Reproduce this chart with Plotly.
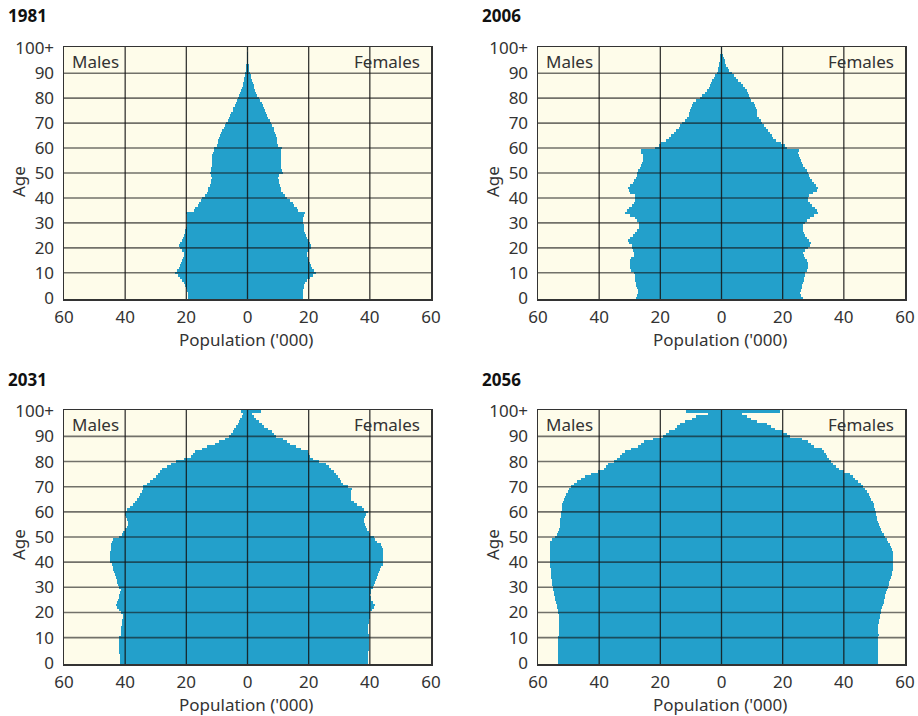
import plotly.graph_objects as go

ages = list(range(101))
age_ticks = [0, 10, 20, 30, 40, 50, 60, 70, 80, 90, 100]
age_tick_labels = ["0", "10", "20", "30", "40", "50", "60", "70", "80", "90", "100+"]
pop_ticks = [-60, -40, -20, 0, 20, 40, 60]
pop_tick_labels = ["60", "40", "20", "0", "20", "40", "60"]
years = ["1981", "2006", "2031", "2056"]

males_1981 = [19.4, 19.5, 19.5, 19.8, 20.0, 20.3, 20.8, 21.4, 22.0, 22.8,
              23.6, 23.2, 22.5, 22.0, 21.6, 21.3, 21.0, 20.9, 20.8, 21.5,
              22.2, 22.3, 22.0, 21.5, 21.2, 20.8, 20.5, 20.3, 20.0, 19.9,
              19.8, 19.7, 19.7, 19.8, 20.0, 17.6, 17.3, 16.3, 15.8, 15.2,
              14.8, 14.0, 13.4, 13.0, 12.8, 12.4, 12.0, 11.8, 11.6, 11.8,
              12.2, 12.0, 11.8, 11.7, 11.7, 11.6, 11.6, 11.5, 11.3, 11.0,
              10.9, 9.9, 9.7, 9.5, 9.3, 9.1, 8.8, 8.3, 7.8, 7.3,
              6.9, 6.4, 6.0, 5.7, 5.3, 4.9, 4.6, 4.2, 3.8, 3.4,
              3.1, 2.7, 2.3, 2.0, 1.8, 1.6, 1.4, 1.2, 1.1, 0.9,
              0.8, 0.6, 0.5, 0.4, 0.3, 0.2, 0.1, 0.1, 0.1, 0.0, 0.1]
females_1981 = [18.0, 18.0, 18.1, 18.2, 18.4, 18.6, 18.9, 19.6, 20.4, 21.3,
                22.4, 21.8, 21.2, 20.7, 20.4, 20.0, 19.7, 19.6, 19.5, 20.0,
                20.8, 20.8, 20.5, 20.0, 19.4, 19.0, 18.7, 18.6, 18.5, 18.4,
                18.3, 18.3, 18.3, 18.5, 18.9, 16.5, 16.3, 15.3, 15.0, 14.0,
                13.0, 12.3, 11.6, 11.1, 10.8, 10.5, 10.4, 10.2, 9.9, 10.4,
                11.6, 11.2, 10.9, 11.0, 11.1, 11.0, 10.9, 10.9, 10.9, 11.0,
                11.2, 9.9, 9.7, 9.6, 9.5, 9.3, 9.0, 8.8, 8.5, 8.1,
                7.7, 7.2, 6.8, 6.4, 6.1, 5.7, 5.4, 5.0, 4.7, 4.1,
                3.6, 3.2, 2.8, 2.5, 2.2, 2.0, 1.7, 1.5, 1.3, 1.0,
                0.8, 0.6, 0.5, 0.4, 0.3, 0.2, 0.1, 0.1, 0.0, 0.0, 0.0]

males_2006 = [27.9, 27.6, 27.3, 27.4, 27.6, 27.9, 28.1, 28.2, 28.2, 28.3,
              28.5, 29.5, 29.8, 29.9, 29.9, 29.8, 29.5, 28.5, 28.7, 29.0,
              29.2, 29.4, 30.2, 30.6, 29.8, 29.0, 28.4, 27.6, 27.0, 27.0,
              27.1, 27.6, 28.4, 29.8, 31.5, 31.0, 30.1, 29.2, 28.6, 28.4,
              28.4, 28.4, 29.8, 30.4, 30.6, 30.0, 29.0, 28.5, 27.9, 27.7,
              27.6, 27.2, 26.8, 26.4, 26.0, 25.8, 25.6, 25.8, 26.2, 26.4,
              21.9, 20.5, 19.9, 18.0, 17.2, 16.4, 15.6, 14.8, 14.0, 13.5,
              13.0, 12.0, 11.3, 10.6, 10.5, 10.4, 10.0, 9.6, 9.3, 8.2,
              7.1, 6.3, 5.5, 4.9, 4.2, 3.8, 3.4, 3.1, 2.6, 2.1,
              1.6, 1.3, 1.1, 0.9, 0.8, 0.6, 0.5, 0.4, 0.3, 0.2, 0.2]
females_2006 = [26.6, 26.0, 25.7, 25.9, 26.2, 26.4, 26.6, 26.9, 27.1, 27.2,
                27.3, 27.8, 28.2, 28.3, 28.2, 27.8, 27.3, 27.0, 26.8, 27.4,
                28.2, 28.8, 29.3, 28.5, 27.9, 27.4, 27.0, 26.8, 26.6, 26.8,
                27.3, 28.0, 29.0, 30.3, 31.7, 31.2, 30.6, 29.5, 28.8, 28.2,
                28.3, 28.6, 30.0, 31.1, 31.5, 30.8, 30.1, 29.5, 29.0, 28.6,
                28.2, 27.8, 27.3, 26.8, 26.2, 26.0, 25.7, 25.4, 25.1, 25.4,
                21.3, 20.8, 19.5, 17.7, 17.0, 16.4, 15.8, 15.3, 14.6, 13.9,
                13.4, 12.9, 12.2, 11.5, 11.5, 11.5, 11.3, 11.1, 10.5, 9.8,
                9.4, 9.1, 8.6, 8.2, 7.6, 7.1, 6.3, 5.5, 4.9, 4.2,
                3.3, 2.4, 2.0, 1.6, 1.3, 1.1, 0.8, 0.5, 0.3, 0.2, 0.1]

males_2031 = [41.8, 41.8, 41.8, 41.8, 41.9, 41.9, 41.9, 42.0, 42.1, 42.1,
              41.9, 41.5, 41.4, 41.3, 41.3, 41.2, 41.2, 41.0, 40.8, 40.7,
              41.3, 42.0, 42.6, 43.0, 42.8, 42.4, 42.1, 41.9, 41.7, 41.5,
              41.9, 42.4, 42.6, 42.8, 43.0, 43.2, 43.5, 43.9, 44.1, 44.3,
              45.1, 45.0, 44.8, 44.8, 44.8, 44.7, 44.6, 44.5, 44.3, 43.9,
              42.1, 41.0, 40.7, 39.9, 39.4, 39.0, 39.1, 39.3, 39.6, 39.9,
              40.1, 39.5, 38.5, 37.4, 36.7, 36.1, 35.6, 35.2, 34.4, 34.3,
              34.2, 32.8, 31.8, 30.8, 30.0, 29.3, 28.6, 27.9, 26.3, 25.1,
              23.5, 20.8, 18.6, 17.8, 17.2, 15.0, 13.1, 10.5, 9.3, 7.5,
              6.0, 5.4, 4.9, 4.3, 3.8, 3.2, 2.7, 2.3, 1.9, 1.6, 2.2]
females_2031 = [39.3, 39.3, 39.4, 39.5, 39.5, 39.6, 39.6, 39.7, 39.7, 39.7,
                39.7, 39.6, 39.5, 39.4, 39.3, 39.4, 39.6, 39.7, 39.9, 40.0,
                40.2, 40.8, 41.5, 41.7, 41.0, 40.4, 40.3, 40.2, 40.3, 40.4,
                40.9, 41.5, 41.8, 42.1, 42.4, 42.6, 42.9, 43.2, 43.7, 44.3,
                44.4, 44.3, 44.3, 44.3, 44.3, 44.3, 44.0, 43.5, 42.4, 41.8,
                41.3, 40.2, 39.6, 39.1, 38.7, 38.3, 38.1, 38.0, 38.4, 38.8,
                39.3, 38.0, 37.5, 35.8, 34.8, 33.9, 33.8, 33.7, 34.0, 34.1,
                32.8, 31.1, 30.6, 30.1, 29.5, 29.0, 28.2, 27.3, 26.5, 25.7,
                23.5, 21.3, 20.5, 20.1, 19.7, 17.5, 15.8, 14.0, 12.8, 11.5,
                9.3, 8.6, 7.9, 6.7, 5.5, 4.6, 3.8, 2.7, 2.2, 1.6, 4.4]

males_2056 = [53.6, 53.6, 53.6, 53.6, 53.6, 53.6, 53.6, 53.6, 53.6, 53.6,
              53.3, 53.2, 53.1, 53.0, 53.0, 53.0, 53.0, 53.0, 53.0, 53.1,
              53.3, 53.5, 53.7, 53.9, 54.1, 54.3, 54.5, 54.7, 54.9, 55.0,
              55.2, 55.3, 55.4, 55.5, 55.6, 55.7, 55.8, 55.9, 56.0, 56.1,
              56.1, 56.1, 56.1, 56.1, 56.1, 56.1, 56.1, 56.1, 56.1, 55.5,
              54.6, 53.9, 53.4, 53.0, 52.9, 52.8, 52.8, 52.7, 52.6, 52.5,
              52.4, 52.2, 52.1, 52.0, 51.9, 51.5, 51.2, 50.8, 50.3, 49.8,
              49.2, 48.1, 47.1, 46.1, 44.5, 42.6, 40.4, 38.5, 37.8, 37.2,
              35.2, 34.2, 33.3, 32.4, 31.5, 29.5, 27.3, 26.4, 25.4, 22.4,
              19.1, 18.1, 17.2, 15.3, 14.5, 13.7, 12.0, 9.8, 8.2, 4.4, 11.5]
females_2056 = [51.1, 51.1, 51.1, 51.1, 51.1, 51.1, 51.1, 51.1, 51.1, 51.1,
                51.3, 51.4, 51.3, 51.2, 51.1, 51.2, 51.4, 51.6, 51.8, 51.9,
                52.1, 52.3, 52.5, 52.8, 53.0, 53.2, 53.4, 53.6, 53.9, 54.1,
                54.4, 54.7, 54.9, 55.2, 55.5, 55.7, 55.9, 56.0, 56.1, 56.1,
                56.1, 56.1, 56.1, 56.1, 56.1, 55.7, 55.4, 55.0, 54.6, 54.1,
                53.6, 53.0, 52.5, 52.2, 51.9, 51.6, 51.3, 51.0, 50.8, 50.6,
                50.5, 50.2, 49.9, 49.7, 49.4, 49.0, 48.6, 48.1, 47.5, 46.9,
                46.4, 45.7, 44.7, 43.7, 42.9, 42.1, 39.9, 38.3, 37.4, 36.6,
                35.8, 35.0, 34.5, 34.1, 33.4, 32.8, 30.1, 29.2, 28.4, 26.2,
                22.4, 21.3, 20.2, 17.5, 16.1, 14.8, 11.5, 9.8, 8.2, 6.6, 19.1]

males = [males_1981, males_2006, males_2031, males_2056]
females = [females_1981, females_2006, females_2031, females_2056]

W, H = 918, 716
BAR = "#23A0CB"
BG = "#FEFCEA"
FONT = "Noto Sans"
TXT = "#333333"

# plot-area pixel boxes on screen: (left, right, top, bottom)
boxes = [(64, 431, 47, 299), (538, 905, 47, 299),
         (64, 431, 410, 664), (538, 905, 410, 664)]


def px(xs):
    return xs / W


def py(ys):
    return 1 - ys / H


fig = go.Figure()
annotations = []
shapes = []

for i in range(4):
    n = "" if i == 0 else str(i + 1)
    xa, ya = "x" + n, "y" + n
    l, r, t, b = boxes[i]
    fig.add_trace(go.Bar(x=[-v for v in males[i]], y=ages, orientation="h", width=1,
                         marker=dict(color=BAR, line=dict(width=0)),
                         xaxis=xa, yaxis=ya, showlegend=False, hoverinfo="skip"))
    fig.add_trace(go.Bar(x=females[i], y=ages, orientation="h", width=1,
                         marker=dict(color=BAR, line=dict(width=0)),
                         xaxis=xa, yaxis=ya, showlegend=False, hoverinfo="skip"))
    axis_common = dict(showline=True, mirror=True, linecolor="#333333", linewidth=1.5,
                       showgrid=False, zeroline=False, ticks="", automargin=False,
                       tickfont=dict(family=FONT, size=17, color=TXT), fixedrange=True)
    fig.update_layout(**{
        ("xaxis" + n): dict(domain=[px(l), px(r)], range=[-60, 60], anchor=ya,
                            tickvals=pop_ticks, ticktext=pop_tick_labels,
                            ticklabelstandoff=2, **axis_common),
        ("yaxis" + n): dict(domain=[py(b), py(t)], range=[-0.5, 100.5], anchor=xa,
                            tickvals=age_ticks, ticktext=age_tick_labels,
                            ticklabelstandoff=5, **axis_common),
    })
    # grid lines drawn above bars
    for gx in [-40, -20, 0, 20, 40]:
        shapes.append(dict(type="line", xref=xa, yref=ya + " domain", x0=gx, x1=gx, y0=0, y1=1,
                           line=dict(color="rgba(20,20,20,0.85)", width=1.3), layer="above"))
    for gy in [10, 20, 30, 40, 50, 60, 70, 80, 90]:
        shapes.append(dict(type="line", xref=xa + " domain", yref=ya, x0=0, x1=1, y0=gy, y1=gy,
                           line=dict(color="rgba(20,20,20,0.6)", width=1.6), layer="above"))
    # panel texts
    annotations.append(dict(text="<b>" + years[i] + "</b>", xref="paper", yref="paper",
                            x=px(l - 58), y=py(t - 31), xanchor="left", yanchor="middle",
                            showarrow=False, font=dict(family=FONT, size=17, color="#111111")))
    annotations.append(dict(text="Males", xref=xa + " domain", yref=ya + " domain",
                            x=6 / (r - l), y=1 - 14 / (b - t), xanchor="left", yanchor="middle",
                            showarrow=False, font=dict(family=FONT, size=17, color=TXT)))
    annotations.append(dict(text="Females", xref=xa + " domain", yref=ya + " domain",
                            x=1 - 9 / (r - l), y=1 - 14 / (b - t), xanchor="right", yanchor="middle",
                            showarrow=False, font=dict(family=FONT, size=17, color=TXT)))
    annotations.append(dict(text="Age", xref="paper", yref="paper", textangle=-90,
                            x=px(l - 46), y=py(t + 135), xanchor="center", yanchor="middle",
                            showarrow=False, font=dict(family=FONT, size=17, color=TXT)))
    annotations.append(dict(text="Population ('000)", xref="paper", yref="paper",
                            x=px((l + r) / 2 - 2), y=py(b + 40), xanchor="center",
                            yanchor="middle", showarrow=False,
                            font=dict(family=FONT, size=17, color=TXT)))

fig.update_layout(width=W, height=H, margin=dict(l=0, r=0, t=0, b=0, pad=0, autoexpand=False),
                  paper_bgcolor="white", plot_bgcolor=BG, barmode="overlay", bargap=0,
                  annotations=annotations, shapes=shapes, hovermode=False,
                  font=dict(family=FONT, color=TXT))
fig.write_html("out.html", config={"displayModeBar": False, "staticPlot": True},
               post_script="document.body.style.margin='0';document.body.style.overflow='hidden';")
